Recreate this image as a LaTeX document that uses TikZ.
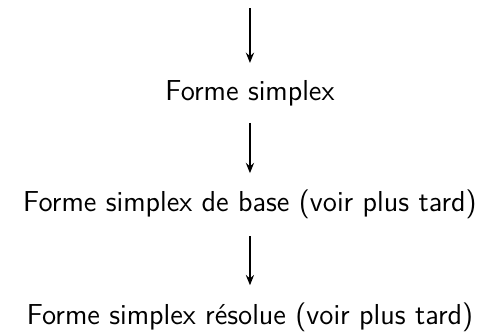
\documentclass[tikz,border=0pt]{standalone}
\usepackage{fontspec}
\usetikzlibrary{arrows.meta}
\begin{document}
\begin{tikzpicture}[x=1pt,y=1pt,
  stage/.style={anchor=base, font=\sffamily\fontsize{11.1}{13}\selectfont, inner xsep=0pt, inner ysep=6.6pt, outer sep=0pt},
  flow/.style={-{Stealth[length=4pt,width=3.2pt,inset=1.4pt]}, line width=0.5pt}]
  \useasboundingbox (0,0) rectangle (188,127.7);
  \coordinate (start) at (96.1,124.6);
  \node[stage] (s1) at (96.1,89.2) {Forme simplex};
  \node[stage] (s2) at (96.1,46.2) {Forme simplex de base (voir plus tard)};
  \node[stage] (s3) at (96.1,3.1) {Forme simplex résolue (voir plus tard)};
  \draw[flow] (start) -- (s1.north);
  \draw[flow] (s1.south) -- (s2.north);
  \draw[flow] (s2.south) -- (s3.north);
\end{tikzpicture}
\end{document}
